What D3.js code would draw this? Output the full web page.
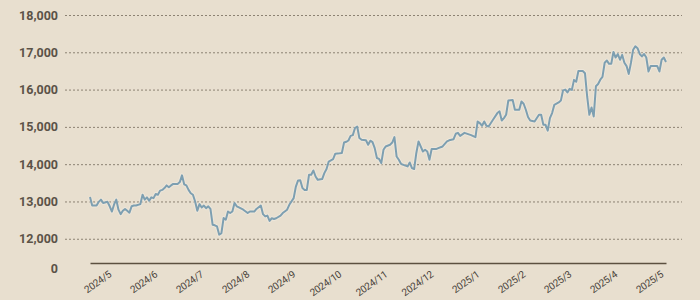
<!DOCTYPE html>
<html>
<head>
<meta charset="utf-8">
<script src="https://cdn.jsdelivr.net/npm/d3@7"></script>
<style>
	html, body { margin: 0; padding: 0; background: #e8dfcf; }
	svg { display: block; }
	.y.axis text { font-family: Roboto, sans-serif; font-weight: 700; font-size: 12.5px; fill: #5b5247; }
	.x.axis text { font-family: Roboto, sans-serif; font-size: 10px; fill: #4a433b; letter-spacing: -0.3px; }
	.grid line { stroke: #8c8273; stroke-dasharray: 2,2; stroke-width: 1; }
</style>
</head>
<body>
<script>
// month labels and the trading-day index where each month starts
const monthLabels = ['2024/5', '2024/6', '2024/7', '2024/8', '2024/9', '2024/10', '2024/11', '2024/12', '2025/1', '2025/2', '2025/3', '2025/4', '2025/5'];
const monthStart = [9, 30, 51, 72, 93, 114, 135, 156, 177, 198, 219, 240, 261];

const yTicks = [12000, 13000, 14000, 15000, 16000, 17000, 18000];

// trading-day index and closing value
const dayIndex = [0, 1, 3, 4, 5, 6, 8, 9, 10, 11, 12, 13, 14, 15, 16, 17, 18, 19, 20, 21, 23, 24, 25, 26, 27, 28, 29, 30, 31, 32, 33, 34, 35, 36, 37, 38, 40, 41, 42, 43, 44, 45, 46, 47, 48, 49, 50, 51, 52, 53, 54, 55, 56, 57, 58, 59, 60, 61, 62, 63, 64, 65, 66, 67, 68, 70, 72, 73, 75, 76, 78, 79, 80, 81, 82, 83, 84, 85, 87, 88, 90, 91, 93, 94, 95, 96, 97, 98, 99, 100, 101, 102, 103, 104, 106, 107, 108, 109, 111, 112, 114, 115, 116, 117, 118, 119, 120, 121, 122, 123, 124, 126, 127, 128, 129, 130, 131, 132, 133, 134, 135, 137, 138, 139, 140, 141, 142, 144, 145, 146, 147, 148, 149, 150, 152, 153, 154, 155, 156, 158, 159, 161, 163, 164, 166, 167, 168, 169, 171, 174, 176, 177, 178, 179, 180, 181, 182, 184, 186, 187, 188, 189, 190, 191, 193, 194, 195, 196, 197, 198, 199, 200, 201, 203, 205, 206, 207, 208, 209, 210, 211, 212, 214, 215, 216, 217, 218, 219, 220, 221, 222, 223, 225, 226, 227, 228, 229, 230, 231, 232, 233, 234, 235, 236, 237, 238, 239, 240, 241, 242, 243, 244, 245, 246, 247, 248, 249, 250, 251, 252, 253, 254, 255, 256, 257, 259, 260, 261, 262, 263];
const closeValues = [13120, 12890, 12890, 12990, 13050, 12960, 12990, 12870, 12730, 12920, 13050, 12780, 12660, 12750, 12800, 12750, 12700, 12870, 12890, 12890, 12930, 13180, 13050, 13110, 13020, 13110, 13090, 13200, 13180, 13290, 13310, 13360, 13430, 13380, 13430, 13470, 13470, 13520, 13700, 13460, 13430, 13310, 13220, 13180, 13000, 12750, 12930, 12840, 12890, 12820, 12870, 12800, 12375, 12360, 12330, 12110, 12150, 12555, 12510, 12730, 12690, 12730, 12960, 12870, 12840, 12780, 12690, 12730, 12730, 12800, 12890, 12660, 12600, 12620, 12480, 12550, 12530, 12550, 12620, 12690, 12780, 12910, 13090, 13400, 13565, 13570, 13360, 13310, 13310, 13715, 13715, 13830, 13670, 13580, 13600, 13760, 13870, 14070, 14135, 14280, 14290, 14300, 14580, 14600, 14635, 14760, 14780, 14970, 15010, 14700, 14655, 14640, 14520, 14630, 14590, 14430, 14165, 14140, 14030, 14385, 14475, 14520, 14580, 14725, 14205, 14120, 14010, 13960, 13940, 14045, 13895, 13870, 14300, 14610, 14340, 14385, 14340, 14120, 14405, 14405, 14430, 14475, 14610, 14640, 14670, 14815, 14840, 14760, 14840, 14780, 14725, 15145, 15100, 15030, 15145, 15030, 15010, 15190, 15370, 15415, 15170, 15235, 15325, 15705, 15720, 15460, 15460, 15460, 15680, 15620, 15460, 15265, 15170, 15145, 15325, 15325, 15055, 15055, 14900, 15235, 15370, 15590, 15655, 15705, 15980, 16000, 15925, 16020, 15990, 16260, 16210, 16500, 16500, 16440, 15815, 15325, 15520, 15280, 16090, 16150, 16265, 16340, 16720, 16780, 16690, 16690, 17010, 16860, 16950, 16800, 16930, 16720, 16630, 16420, 16720, 17070, 17160, 17110, 16955, 16890, 16955, 16860, 16485, 16630, 16630, 16630, 16485, 16800, 16860, 16740];

// the axis is broken: the baseline stands for 0
const BASE = 11350;

const margin = {
	top: 15,
	right: 18,
	bottom: 37,
	left: 65,
};
const width = 700 - margin.left - margin.right;
const height = 300 - margin.top - margin.bottom;

const svg = d3
	.select('body')
	.append('svg')
	.attr('width', width + margin.left + margin.right)
	.attr('height', height + margin.top + margin.bottom)
	.append('g')
	.attr('transform', `translate(${margin.left},${margin.top})`);

const xscale = d3
	.scaleLinear()
	.domain([0, 263])
	.range([25, 601]);

const yscale = d3
	.scaleLinear()
	.domain([BASE, 18000])
	.range([height, 0]);

const data = dayIndex.map((d, i) => ({ day: d, value: closeValues[i] }));

// dotted grid
svg
	.append('g')
	.attr('class', 'grid')
	.call(d3.axisLeft(yscale).tickValues(yTicks).tickSize(-width).tickFormat(''))
	.call(g => g.select('.domain').remove());

const yAxis = d3
	.axisLeft(yscale)
	.tickValues([BASE].concat(yTicks))
	.tickSize(0)
	.tickPadding(7)
	.tickFormat(d => (d === BASE ? '0' : d3.format(',')(d)));

svg
	.append('g')
	.attr('class', 'y axis')
	.call(yAxis)
	.call(g => g.select('.domain').remove())
	.selectAll('.tick')
	.filter(d => d === BASE)
	.select('text')
	.attr('dy', '0.72em');

const xAxis = d3
	.axisBottom(xscale)
	.tickValues(monthStart)
	.tickSize(0)
	.tickFormat((d, i) => monthLabels[i]);

const gx = svg
	.append('g')
	.attr('class', 'x axis')
	.attr('transform', `translate(0,${height})`)
	.call(xAxis);

gx.select('.domain').attr('stroke', '#5c5040').attr('stroke-width', 1.5);

gx
	.selectAll('text')
	.attr('x', 0)
	.attr('y', 0)
	.attr('dy', null)
	.attr('text-anchor', 'end')
	.attr('transform', 'translate(2,13) rotate(-35)');

const line = d3
	.line()
	.x(d => xscale(d.day))
	.y(d => yscale(d.value));

svg
	.append('path')
	.datum(data)
	.attr('fill', 'none')
	.attr('stroke', '#f4efe6')
	.attr('stroke-opacity', 0.45)
	.attr('stroke-width', 4)
	.attr('stroke-linejoin', 'round')
	.attr('d', line);

svg
	.append('path')
	.datum(data)
	.attr('fill', 'none')
	.attr('stroke', '#7d9fb1')
	.attr('stroke-width', 2)
	.attr('stroke-linejoin', 'round')
	.attr('d', line);
</script>
</body>
</html>
